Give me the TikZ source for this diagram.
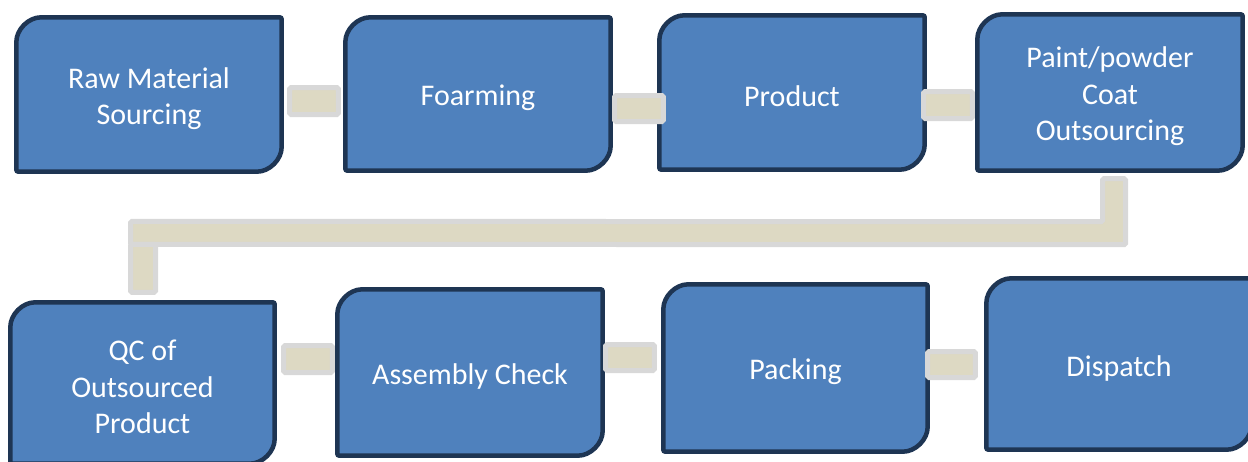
\documentclass[tikz,border=0pt]{standalone}
\usepackage{fontspec}
\setmainfont{Carlito}
\usetikzlibrary{backgrounds}
\definecolor{boxfill}{HTML}{4F81BD}
\definecolor{boxedge}{HTML}{1E3553}
\definecolor{connfill}{HTML}{DDD9C3}
\definecolor{connedge}{HTML}{D8D8D8}
\newcommand\bxshape[1]{%
  \draw[boxline] ([yshift=-23pt]#1.north west) arc[start angle=180,end angle=90,radius=27pt]
    -- ([yshift=4pt]#1.north east) -- ([yshift=31pt]#1.south east)
    arc[start angle=0,end angle=-90,radius=27pt] -- ([yshift=4pt]#1.south west) -- cycle;}
\begin{document}
\begin{tikzpicture}[x=1pt,y=1pt,
  boxline/.style={draw=boxedge,fill=boxfill,line width=4.5pt,rounded corners=2pt},
  stage/.style={inner sep=0pt,text=white,align=center,
    font=\fontsize{30}{36.6}\selectfont},
  conn/.style={draw=connedge,fill=connfill,line width=5pt,rounded corners=1.5pt}]
\useasboundingbox (0,0) rectangle (1248,-461);
% stages (node centres sit 4pt below the shape centres, so the text matches)
\node[stage,minimum width=265pt,minimum height=154pt] (raw)   at (149,-98.5)   {Raw Material\\Sourcing};
\node[stage,minimum width=265pt,minimum height=153pt] (foam)  at (478,-98)     {Foarming};
\node[stage,minimum width=265pt,minimum height=154pt] (prod)  at (792,-96.5)   {Product};
\node[stage,minimum width=265pt,minimum height=156pt] (paint) at (1110,-96.5)  {Paint/powder\\Coat\\Outsourcing};
\node[stage,minimum width=264pt,minimum height=161pt] (qc)    at (142.5,-387)  {QC of\\Outsourced\\Product};
\node[stage,minimum width=265pt,minimum height=166pt] (asm)   at (470,-376.5)  {Assembly Check};
\node[stage,minimum width=264pt,minimum height=167pt] (pack)  at (795.5,-372)  {Packing};
\node[stage,minimum width=265pt,minimum height=171pt] (disp)  at (1119,-368)   {Dispatch};
\begin{pgfonlayer}{background}
  \fill[white] (0,0) rectangle (1248,-461);
  \bxshape{raw}\bxshape{foam}\bxshape{prod}\bxshape{paint}
  \bxshape{qc}\bxshape{asm}\bxshape{pack}\bxshape{disp}
\end{pgfonlayer}
% connectors
\draw[conn] ([shift={(8,11)}]raw.east)    rectangle ([shift={(-7,-16.5)}]foam.west);
\draw[conn] ([shift={(4,2.5)}]foam.east)  rectangle ([shift={(4,-25)}]prod.west);
\draw[conn] ([shift={(-1,5)}]prod.east)   rectangle ([shift={(-5,-22)}]paint.west);
\draw[conn] ([shift={(-7.5,-4)}]paint.south) -- ([shift={(15.5,-4)}]paint.south)
  -- ([shift={(15.5,-70)}]paint.south) -- ([shift={(-12,62)}]qc.north)
  -- ([shift={(-12,85)}]qc.north) -- ([shift={(-7.5,-47)}]paint.south) -- cycle;
\draw[conn] ([shift={(-12,62)}]qc.north) rectangle ([shift={(13,14)}]qc.north);
\draw[conn] ([shift={(9,41.5)}]qc.east)  rectangle ([shift={(-5,4)}]asm.west);
\draw[conn] ([shift={(3,32)}]asm.east)   rectangle ([shift={(-9,1.5)}]pack.west);
\draw[conn] ([shift={(0,20.5)}]pack.east) rectangle ([shift={(-11,-9.5)}]disp.west);
\end{tikzpicture}
\end{document}
